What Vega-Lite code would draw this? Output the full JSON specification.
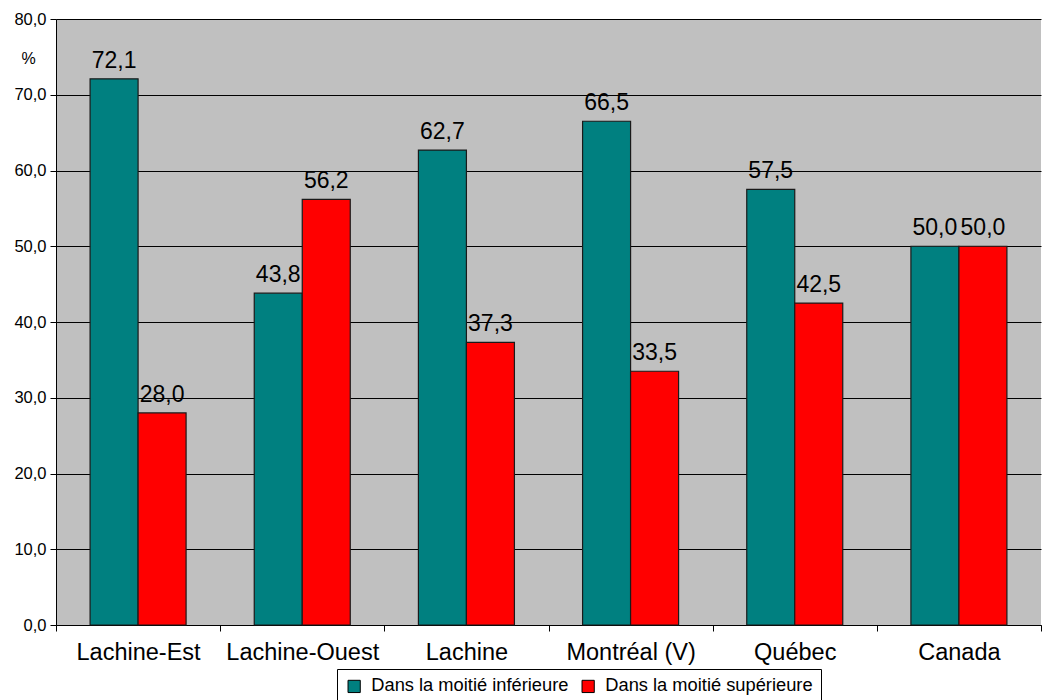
{
  "$schema": "https://vega.github.io/schema/vega-lite/v6.json",
  "autosize": "none",
  "width": 985,
  "height": 606,
  "padding": {"left": 56, "top": 19, "right": 6, "bottom": 75},
  "background": "white",
  "config": {
    "locale": {"number": {"decimal": ",", "thousands": " ", "grouping": [3], "currency": ["", " €"]}},
    "font": "Liberation Sans",
    "view": {"fill": "#C0C0C0", "stroke": null}
  },
  "data": {
    "values": [
      {"region": "Lachine-Est", "serie": "Dans la moitié inférieure", "value": 72.1},
      {"region": "Lachine-Est", "serie": "Dans la moitié supérieure", "value": 28.0},
      {"region": "Lachine-Ouest", "serie": "Dans la moitié inférieure", "value": 43.8},
      {"region": "Lachine-Ouest", "serie": "Dans la moitié supérieure", "value": 56.2},
      {"region": "Lachine", "serie": "Dans la moitié inférieure", "value": 62.7},
      {"region": "Lachine", "serie": "Dans la moitié supérieure", "value": 37.3},
      {"region": "Montréal (V)", "serie": "Dans la moitié inférieure", "value": 66.5},
      {"region": "Montréal (V)", "serie": "Dans la moitié supérieure", "value": 33.5},
      {"region": "Québec", "serie": "Dans la moitié inférieure", "value": 57.5},
      {"region": "Québec", "serie": "Dans la moitié supérieure", "value": 42.5},
      {"region": "Canada", "serie": "Dans la moitié inférieure", "value": 50.0},
      {"region": "Canada", "serie": "Dans la moitié supérieure", "value": 50.0}
    ]
  },
  "encoding": {
    "x": {
      "field": "region", "type": "nominal", "sort": null,
      "scale": {"paddingInner": 0, "paddingOuter": 0},
      "axis": {
        "title": null, "labelAngle": 0, "labelFontSize": 23.5, "labelColor": "black",
        "labelPadding": 9, "tickBand": "extent", "tickColor": "black", "tickSize": 6,
        "domainColor": "black", "grid": false
      }
    },
    "xOffset": {"field": "serie", "type": "nominal", "scale": {"paddingInner": 0, "paddingOuter": 0.71}},
    "y": {
      "field": "value", "type": "quantitative",
      "scale": {"domain": [0, 80]},
      "axis": {
        "title": "%", "titleAngle": 0, "titleFontWeight": "normal", "titleFontSize": 16,
        "titleX": -28, "titleY": 47, "titleAlign": "center", "titleColor": "black",
        "values": [0, 10, 20, 30, 40, 50, 60, 70, 80], "format": ".1f",
        "labelFontSize": 16.5, "labelColor": "black", "labelPadding": 4,
        "tickColor": "black", "tickSize": 6, "domainColor": "black",
        "grid": true, "gridColor": "black", "gridOpacity": 1, "gridWidth": 1
      }
    }
  },
  "layer": [
    {
      "mark": {"type": "bar", "stroke": "#1a1a1a", "strokeWidth": 1.2},
      "encoding": {
        "color": {
          "field": "serie", "type": "nominal",
          "scale": {"domain": ["Dans la moitié inférieure", "Dans la moitié supérieure"], "range": ["#008080", "#FF0000"]},
          "legend": {
            "title": null, "orient": "none", "direction": "horizontal",
            "legendX": 281, "legendY": 650,
            "symbolType": "square", "symbolSize": 150, "symbolStrokeColor": "black", "symbolStrokeWidth": 1,
            "labelFontSize": 18.3, "labelColor": "black", "labelLimit": 0, "labelOffset": 8, "columnPadding": 10,
            "strokeColor": "black", "fillColor": "white", "padding": 8
          }
        }
      }
    },
    {
      "mark": {"type": "text", "baseline": "alphabetic", "dy": -11, "fontSize": 23, "color": "black"},
      "encoding": {"text": {"field": "value", "type": "quantitative", "format": ".1f"}}
    }
  ]
}
